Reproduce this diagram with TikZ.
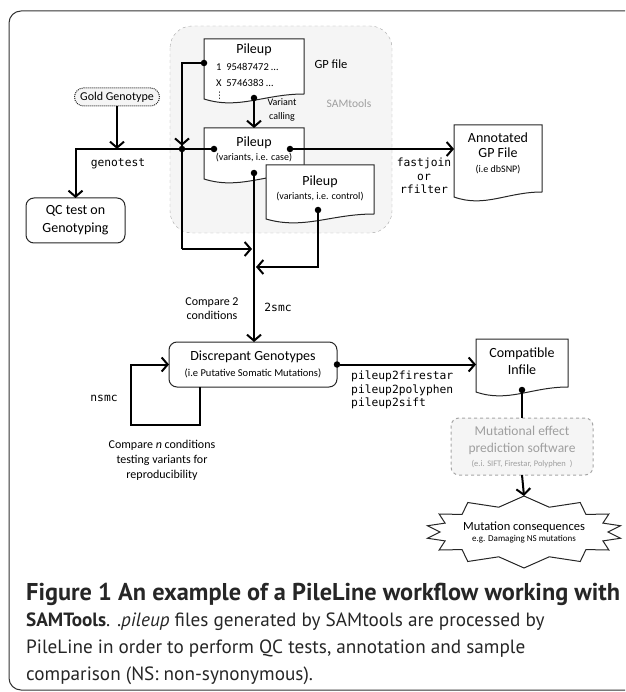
\documentclass[tikz,border=0pt]{standalone}
\usepackage{fontspec}
\setmainfont{Carlito}
\setmonofont{DejaVu Sans Mono}
\newfontfamily\capfont{PT Sans}
\newfontfamily\symfont{DejaVu Sans}
\usetikzlibrary{arrows.meta,calc}
\newcommand\fsz[2]{\fontsize{#1}{#2}\selectfont}
% document outline with a wavy bottom edge
\newcommand\DrawDoc[1]{%
  \draw[docline] (#1.north west) -- (#1.north east) -- ($(#1.south east)+(0,8pt)$)
    .. controls ($(#1.south east)!0.4!(#1.south west)+(0,8pt)$)
    and ($(#1.south east)!0.65!(#1.south west)+(0,-8pt)$)
    .. ($(#1.south west)+(0,3pt)$) -- cycle;
}
\tikzset{%
  >={Straight Barb[length=6pt,width=14pt]}, % open arrow heads
  flow/.style={line width=2pt,->},
  wire/.style={line width=2pt},
  dot coordinate/.style={inner sep=0pt,outer sep=0pt,minimum size=6.5pt,
    fill=black,circle},
  docnode/.style={inner sep=0pt,outer sep=0pt},
  docline/.style={line width=1pt,draw=black!85,fill=white},
  stepbox/.style={draw=black!85,line width=1pt,fill=white,rounded corners=8pt,
    inner sep=0pt,outer sep=0pt,align=center},
  softbox/.style={stepbox,fill=gray!8,draw=gray!70,dashed},
  label/.style={inner sep=0pt,align=center},
  cmd/.style={inner sep=0pt,align=center,font=\ttfamily\fsz{11.3}{13.5}},
  capline/.style={inner sep=0pt,anchor=base west,text=black!85}
}
\begin{document}
\begin{tikzpicture}[x=1pt,y=-1pt]

\useasboundingbox (0,0) rectangle (625,692);

%% frame and SAMtools area

\draw[line width=1pt,black!80,rounded corners=12pt] (625,11) -- (9,11) -- (9,690) -- (625,690);
\draw[gray!70,dashed,fill=gray!8,rounded corners=22pt] (170,26) rectangle (392,233);
\node[label,text=gray!75,font=\fsz{11.5}{13}] (samtools) at (349,104) {SAMtools};

%% pileup files

\node[docnode,minimum width=100pt,minimum height=63pt] (gp) at (254,70.5) {};
\DrawDoc{gp}
\node[label,font=\fsz{14}{16}] (gptitle) at (254,50) {Pileup};
\node[label,anchor=west,font=\fsz{10.5}{12}] (gprow1) at (216,67) {1 \ 95487472 …};
\node[label,anchor=west,font=\fsz{10.5}{12}] (gprow2) at (216,83) {X \ 5746383 …};
\node[label,anchor=west,font=\symfont\fsz{9}{10}] (gprow3) at (215,96) {⋮};
\node[label,font=\fsz{12.5}{14}] (gpfile) at (331,64) {GP file};
\node[label,font=\fsz{10}{14}] (calling) at (282,110) {Variant\\calling};

\node[docnode,minimum width=100pt,minimum height=54pt] (case) at (254,155) {};
\DrawDoc{case}
\node[label,font=\fsz{14}{16}] (casetitle) at (254,143) {Pileup};
\node[label,font=\fsz{10}{12}] (casetext) at (254,158) {(variants, i.e. case)};

\node[docnode,minimum width=108pt,minimum height=57pt] (ctrl) at (320,193.5) {};
\DrawDoc{ctrl}
\node[label,font=\fsz{14}{16}] (ctrltitle) at (320,182) {Pileup};
\node[label,font=\fsz{10}{12}] (ctrltext) at (320,197) {(variants, i.e. control)};

\node[docnode,minimum width=88pt,minimum height=75pt] (annot) at (498,162.5) {};
\DrawDoc{annot}
\node[label,font=\fsz{14}{15.5}] (annottext) at (498,153)
  {Annotated\\GP File\\[-1pt]\fsz{10}{12}(i.e dbSNP)};

%% boxes

\node[stepbox,densely dotted,fill=gray!8,rounded corners=9pt,minimum width=85pt,
  minimum height=18pt,font=\fsz{12}{13}] (gold) at (117,97) {Gold Genotype};
\node[stepbox,minimum width=99pt,minimum height=45pt,font=\fsz{14}{18}] (qc)
  at (75.5,220.5) {QC test on\\Genotyping};
\node[stepbox,minimum width=168pt,minimum height=45pt,font=\fsz{14}{16}] (disc)
  at (253,364.5) {Discrepant Genotypes\\\fsz{10.5}{13}(i.e Putative Somatic Mutations)};

\node[docnode,minimum width=92pt,minimum height=56pt] (compat) at (522,367) {};
\DrawDoc{compat}
\node[label,font=\fsz{14}{17}] (compattext) at (522,361) {Compatible\\Infile};

\node[softbox,minimum width=142pt,minimum height=57pt,text=gray!75,
  font=\fsz{13.5}{17}] (mut) at (522,446.5) {Mutational effect\\prediction software\\[-3pt]
  \fsz{8.5}{10}(e.i. SIFT, Firestar, Polyphen\ \ )};

% star of consequences
\draw[docline] (524,496) foreach \i/\o in {72.5/55,42.5/30,20/10,0/-10,-20/-30,
    -42.5/-55,-72.5/-90,-107.5/-125,-137.5/-150,-160/-170,180/170,160/150,
    137.5/125,107.5/90}
  { -- ({524+84*cos(\i)},{532-26*sin(\i)}) -- ({524+98*cos(\o)},{532-36*sin(\o)}) }
  -- cycle;
\coordinate (startop) at (524,496);
\node[label,font=\fsz{12.5}{11}] (cons) at (524,532)
  {Mutation consequences\\\fsz{9}{11}e.g. Damaging NS mutations};

%% connection points

\coordinate[dot coordinate] (gpL) at (204,63);
\coordinate[dot coordinate] (gpB) at (254,98);
\coordinate[dot coordinate] (caseL) at (214,149);
\coordinate[dot coordinate] (caseR) at (290,149);
\coordinate[dot coordinate] (caseB) at (254,173);
\coordinate[dot coordinate] (ctrlB) at (318,210);
\coordinate[dot coordinate] (cross) at (182,149);
\coordinate[dot coordinate] (discR) at (337,364.5);
\coordinate[dot coordinate] (compB) at (522,390);
\coordinate (rail) at (182,249);
\coordinate (joinA) at (252,249);
\coordinate (joinB) at (256,267);
\coordinate (loop) at (131,425);

%% flows

\draw[flow] (gpB) -- (case.north);
\draw[wire] (gpL) -| (rail);
\draw[flow] (rail) -- (joinA);
\draw[flow] ($(cross)+(0,-20)$) -- (cross);
\draw[flow] (caseL) -| (qc.north);
\draw[flow] (gold.south) -- (gold.south |- caseL);
\draw[flow] (caseR) -- (caseR -| annot.west);
\draw[flow] (caseB) -- (caseB |- disc.north);
\draw[flow] (ctrlB) |- (joinB);
\draw[flow] ([xshift=31pt]disc.south west) |- (loop) |- (disc.west);
\draw[flow] (discR) -- (discR -| compat.west);
\draw[wire] (compB) -- (mut.north);
\draw[flow] (mut.south) -- (startop);

%% labels on the flows

\node[cmd] (genotest) at (118,164) {genotest};
\node[cmd] (joinlbl) at (424,176) {fastjoin\\or\\rfilter};
\node[label,font=\fsz{12}{14}] (cmp2) at (212,309) {Compare 2\\conditions};
\node[cmd] (twosmc) at (278,307) {2smc};
\node[cmd] (nsmc) at (104,398) {nsmc};
\node[label,font=\fsz{12}{15}] (cmpn) at (162,460)
  {Compare \textit{n} conditions\\testing variants for\\reproducibility};
\node[cmd,align=left,anchor=west] (convert) at (351,390)
  {pileup2firestar\\pileup2polyphen\\pileup2sift};

%% caption

\node[capline,font=\capfont\bfseries\fsz{20}{24}] (cap1) at (26,600)
  {\resizebox{594pt}{!}{Figure 1 An example of a PileLine workflow working with}};
\node[capline,font=\capfont\fsz{19.2}{24}] (cap2) at (26,626.5)
  {\textbf{SAMTools}. .\textit{pileup} files generated by SAMtools are processed by};
\node[capline,font=\capfont\fsz{19.2}{24}] (cap3) at (26,653)
  {PileLine in order to perform QC tests, annotation and sample};
\node[capline,font=\capfont\fsz{19.2}{24}] (cap4) at (26,680)
  {comparison (NS: non-synonymous).};

\end{tikzpicture}
\end{document}
